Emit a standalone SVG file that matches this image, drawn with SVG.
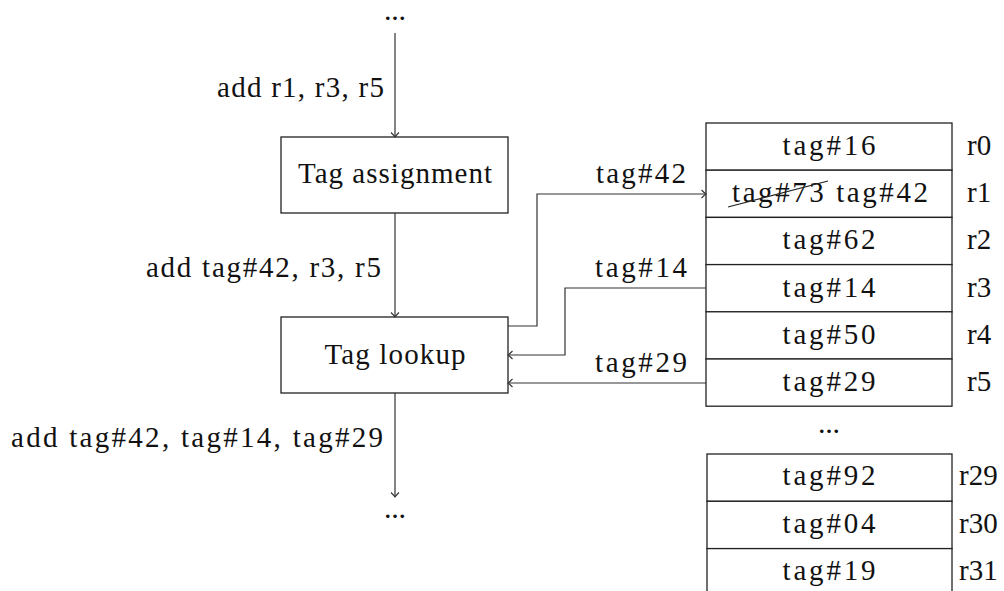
<svg xmlns="http://www.w3.org/2000/svg" width="1004" height="591" viewBox="0 0 1004 591">
  <style>
    text { font-family: "Liberation Serif", "Times New Roman", serif; font-size: 29px; fill: #111; }
    .c { text-anchor: middle; }
    .r { text-anchor: end; }
    .dots { font-size: 22px; font-weight: bold; text-anchor: middle; }
    .box { fill: #fff; stroke: #222; stroke-width: 1.3; }
    .cell { fill: #fff; stroke: #222; stroke-width: 1.3; }
    .wire { fill: none; stroke: #333; stroke-width: 1.2; marker-end: url(#tip); }
  </style>
  <defs>
    <marker id="tip" markerUnits="userSpaceOnUse" markerWidth="12" markerHeight="12" viewBox="-6 -6 12 12" refX="0" refY="0" orient="auto">
      <path d="M -4.5,-4 Q -1.5,-1 0,0 Q -1.5,1 -4.5,4" fill="none" stroke="#333" stroke-width="1.1"/>
    </marker>
  </defs>

  <!-- pipeline stages -->
  <g id="stage-assign">
    <rect class="box" x="281" y="137" width="227" height="76"/>
    <text class="c" x="395" y="183" textLength="194" lengthAdjust="spacing">Tag assignment</text>
  </g>
  <g id="stage-lookup">
    <rect class="box" x="281" y="317" width="227" height="76"/>
    <text class="c" x="395" y="364" textLength="141" lengthAdjust="spacing">Tag lookup</text>
  </g>

  <!-- register tag table, r0..r5 -->
  <g id="table-upper">
    <rect class="cell" x="706" y="123" width="246" height="47.2"/>
    <rect class="cell" x="706" y="170.2" width="246" height="47.2"/>
    <rect class="cell" x="706" y="217.4" width="246" height="47.2"/>
    <rect class="cell" x="706" y="264.6" width="246" height="47.2"/>
    <rect class="cell" x="706" y="311.8" width="246" height="47.2"/>
    <rect class="cell" x="706" y="359" width="246" height="47.2"/>
    <text class="c" x="829" y="155" textLength="93" lengthAdjust="spacing">tag#16</text>
    <text class="c" x="830" y="202" textLength="196" lengthAdjust="spacing">tag#73 tag#42</text>
    <line x1="728" y1="207" x2="828" y2="181" stroke="#222" stroke-width="1.2"/>
    <text class="c" x="829" y="249" textLength="93" lengthAdjust="spacing">tag#62</text>
    <text class="c" x="829" y="297" textLength="93" lengthAdjust="spacing">tag#14</text>
    <text class="c" x="829" y="344" textLength="93" lengthAdjust="spacing">tag#50</text>
    <text class="c" x="829" y="391" textLength="93" lengthAdjust="spacing">tag#29</text>
    <text x="967" y="155">r0</text>
    <text x="967" y="202">r1</text>
    <text x="967" y="249">r2</text>
    <text x="967" y="297">r3</text>
    <text x="967" y="344">r4</text>
    <text x="967" y="391">r5</text>
  </g>
  <text class="dots" x="829" y="433" textLength="20" lengthAdjust="spacing">...</text>

  <!-- register tag table, r29..r31 -->
  <g id="table-lower">
    <rect class="cell" x="707" y="454" width="245" height="47.3"/>
    <rect class="cell" x="707" y="501.3" width="245" height="47.3"/>
    <rect class="cell" x="707" y="548.6" width="245" height="50"/>
    <text class="c" x="829" y="485" textLength="93" lengthAdjust="spacing">tag#92</text>
    <text class="c" x="829" y="533" textLength="93" lengthAdjust="spacing">tag#04</text>
    <text class="c" x="829" y="580" textLength="93" lengthAdjust="spacing">tag#19</text>
    <text x="959" y="485">r29</text>
    <text x="959" y="533">r30</text>
    <text x="959" y="580">r31</text>
  </g>

  <!-- connectors -->
  <g id="connectors">
    <text class="dots" x="395" y="20" textLength="20" lengthAdjust="spacing">...</text>
    <path class="wire" d="M 395,33 L 395,137"/>
    <text class="r" x="384" y="97" textLength="167" lengthAdjust="spacing">add r1, r3, r5</text>

    <path class="wire" d="M 395,213 L 395,317"/>
    <text class="r" x="381" y="277" textLength="235" lengthAdjust="spacing">add tag#42, r3, r5</text>

    <path class="wire" d="M 395,393 L 395,497"/>
    <text class="r" x="383" y="447" textLength="372" lengthAdjust="spacing">add tag#42, tag#14, tag#29</text>
    <text class="dots" x="395" y="518" textLength="20" lengthAdjust="spacing">...</text>

    <path class="wire" d="M 508,326 L 537,326 L 537,194 L 706,194"/>
    <text class="r" x="686" y="183" textLength="90" lengthAdjust="spacing">tag#42</text>

    <path class="wire" d="M 706,288 L 565,288 L 565,355 L 508,355"/>
    <text class="r" x="687" y="277" textLength="92" lengthAdjust="spacing">tag#14</text>

    <path class="wire" d="M 706,383 L 508,383"/>
    <text class="r" x="687" y="372" textLength="92" lengthAdjust="spacing">tag#29</text>
  </g>
</svg>
